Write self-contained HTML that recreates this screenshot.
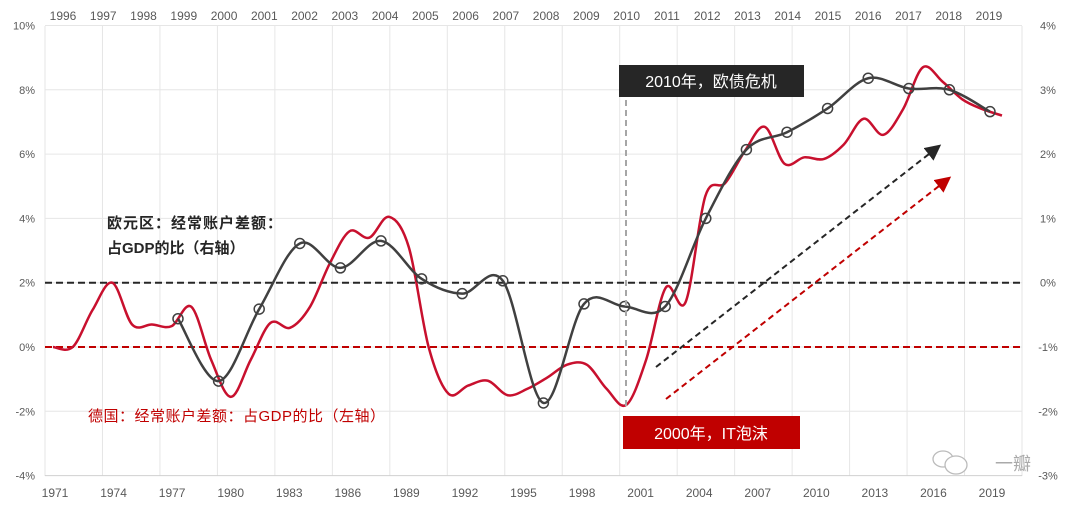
<!DOCTYPE html>
<html><head><meta charset="utf-8"><style>
body{margin:0;background:#fff}
svg{display:block;font-family:"Liberation Sans","Noto Sans CJK SC",sans-serif}
</style></head><body>
<svg id="chart" width="1080" height="508" viewBox="0 0 1080 508">
<g id="grid"></g>
<g id="axes"></g>
<g id="series"></g>
<line x1="626" y1="100" x2="626" y2="410" stroke="#a6a6a6" stroke-width="2" stroke-dasharray="6,4"/>
<g><rect x="619" y="65" width="185" height="32" fill="#262626"/><text x="711" y="87" fill="#fff" font-size="16" text-anchor="middle">2010年，欧债危机</text></g>
<g><rect x="623" y="416" width="177" height="33" fill="#c00000"/><text x="711" y="439" fill="#fff" font-size="16" text-anchor="middle">2000年，IT泡沫</text></g>
<defs>
<marker id="ab" markerWidth="8" markerHeight="8" refX="6" refY="4" orient="auto"><path d="M0,0 L8,4 L0,8z" fill="#262626"/></marker>
<marker id="ar" markerWidth="8" markerHeight="8" refX="6" refY="4" orient="auto"><path d="M0,0 L8,4 L0,8z" fill="#c00000"/></marker>
</defs>
<line x1="656" y1="367" x2="938" y2="147" stroke="#262626" stroke-width="2" stroke-dasharray="6,4" marker-end="url(#ab)"/>
<line x1="666" y1="399" x2="948" y2="179" stroke="#c00000" stroke-width="2" stroke-dasharray="6,4" marker-end="url(#ar)"/>
<text x="107" y="228" font-size="15" fill="#262626" font-weight="bold" letter-spacing="1">欧元区：经常账户差额：</text>
<text x="107" y="253" font-size="15" fill="#262626" font-weight="bold">占GDP的比（右轴）</text>
<text x="88" y="421" font-size="15" fill="#c00000" letter-spacing="0.5">德国：经常账户差额：占GDP的比（左轴）</text>
<g fill="none" stroke="#bbb" stroke-width="1.3">
<ellipse cx="943" cy="459" rx="10" ry="8"/><ellipse cx="956" cy="465" rx="11" ry="9" fill="#fff"/>
<text x="995" y="470" font-size="18" fill="#aaa" stroke="none">一瓣</text></g>
</svg>
<script>
const deYears=[1971,1972,1973,1974,1975,1976,1977,1978,1979,1980,1981,1982,1983,1984,1985,1986,1987,1988,1989,1990,1991,1992,1993,1994,1995,1996,1997,1998,1999,2000,2001,2002,2003,2004,2005,2006,2007,2008,2009,2010,2011,2012,2013,2014,2015,2016,2017,2018,2019];
const deValues=[0.0,0.0,1.15,2.0,0.7,0.7,0.65,1.25,-0.4,-1.55,-0.4,0.75,0.6,1.25,2.6,3.6,3.4,4.05,3.1,0.0,-1.45,-1.2,-1.05,-1.5,-1.3,-0.95,-0.55,-0.55,-1.3,-1.8,-0.4,1.85,1.4,4.7,5.1,6.1,6.85,5.7,5.9,5.85,6.3,7.1,6.6,7.4,8.7,8.25,7.7,7.4,7.2];
const ezYears=[1999,2000,2001,2002,2003,2004,2005,2006,2007,2008,2009,2010,2011,2012,2013,2014,2015,2016,2017,2018,2019];
const ezValues=[-0.56,-1.53,-0.41,0.61,0.23,0.65,0.06,-0.17,0.03,-1.87,-0.33,-0.37,-0.37,1.0,2.07,2.34,2.71,3.18,3.02,3.0,2.66];
const leftTicks=[10,8,6,4,2,0,-2,-4];
const rightTicks=[4,3,2,1,0,-1,-2,-3];
const bottomLabels=[1971,1974,1977,1980,1983,1986,1989,1992,1995,1998,2001,2004,2007,2010,2013,2016,2019];
const topLabels=[1996,1997,1998,1999,2000,2001,2002,2003,2004,2005,2006,2007,2008,2009,2010,2011,2012,2013,2014,2015,2016,2017,2018,2019];

const NS="http://www.w3.org/2000/svg";
const X0=45,X1=1022,Y0=26,Y1=476;
const yL=v=>347-v*32.15;
const yR=v=>yL(2*v+2);
const xB=yr=>53+(yr-1971)*19.77;
const xT=yr=>990-(2019-yr)*40.6;
function mk(tag,attrs,parent){const e=document.createElementNS(NS,tag);for(const k in attrs)e.setAttribute(k,attrs[k]);parent.appendChild(e);return e;}
const grid=document.getElementById('grid'),axes=document.getElementById('axes'),series=document.getElementById('series');
for(let i=0;i<=17;i++){const x=X0+i*(X1-X0)/17;
 const l=mk('line',{x1:x,y1:Y0,x2:x,y2:Y1,stroke:'#e6e6e6','stroke-width':1},grid);
 
 }
leftTicks.forEach(v=>{const y=yL(v);
 const l=mk('line',{x1:X0,y1:y,x2:X1,y2:y,stroke:v==-4?'#d0d0d0':'#e6e6e6','stroke-width':1},grid);
 
 
 const t=mk('text',{x:35,y:y+4,'font-size':11,fill:'#595959','text-anchor':'end'},axes);t.textContent=v+'%';
 
 });
rightTicks.forEach(v=>{const y=yR(v);
 const t=mk('text',{x:1048,y:y+4,'font-size':11,fill:'#595959','text-anchor':'middle'},axes);t.textContent=v+'%';
 
 });
bottomLabels.forEach((yr,i)=>{const x=55+i*(992-55)/16;
 const t=mk('text',{x:x,y:497,'font-size':12,fill:'#595959','text-anchor':'middle'},axes);t.textContent=yr;
 
 });
topLabels.forEach((yr,i)=>{const x=63+i*(989-63)/23;
 const t=mk('text',{x:x,y:20,'font-size':12,fill:'#595959','text-anchor':'middle'},axes);t.textContent=yr;
 
 });
// reference lines
const r1=mk('line',{x1:X0,y1:yR(0),x2:X1,y2:yR(0),stroke:'#262626','stroke-width':2,'stroke-dasharray':'7,4'},grid);


const r2=mk('line',{x1:X0,y1:yL(0),x2:X1,y2:yL(0),stroke:'#c00000','stroke-width':2,'stroke-dasharray':'7,4'},grid);


function smooth(pts){let d='M'+pts[0][0]+','+pts[0][1];
 for(let i=0;i<pts.length-1;i++){const p0=pts[i-1]||pts[i],p1=pts[i],p2=pts[i+1],p3=pts[i+2]||p2;
  const c1=[p1[0]+(p2[0]-p0[0])/6,p1[1]+(p2[1]-p0[1])/6],c2=[p2[0]-(p3[0]-p1[0])/6,p2[1]-(p3[1]-p1[1])/6];
  d+=' C'+c1+' '+c2+' '+p2;}return d;}
const dePts=deYears.map((y,i)=>[xB(y),yL(deValues[i])]);
const dl=mk('path',{d:smooth(dePts),fill:'none',stroke:'#c8102e','stroke-width':2.5},series);


const ezPts=ezYears.map((y,i)=>[xT(y),yR(ezValues[i])]);
const el=mk('path',{d:smooth(ezPts),fill:'none',stroke:'#404040','stroke-width':2.5},series);


ezPts.forEach(p=>{const c=mk('circle',{cx:p[0],cy:p[1],r:5,fill:'none',stroke:'#404040','stroke-width':1.5},series);
 
 });
</script>
</body></html>
